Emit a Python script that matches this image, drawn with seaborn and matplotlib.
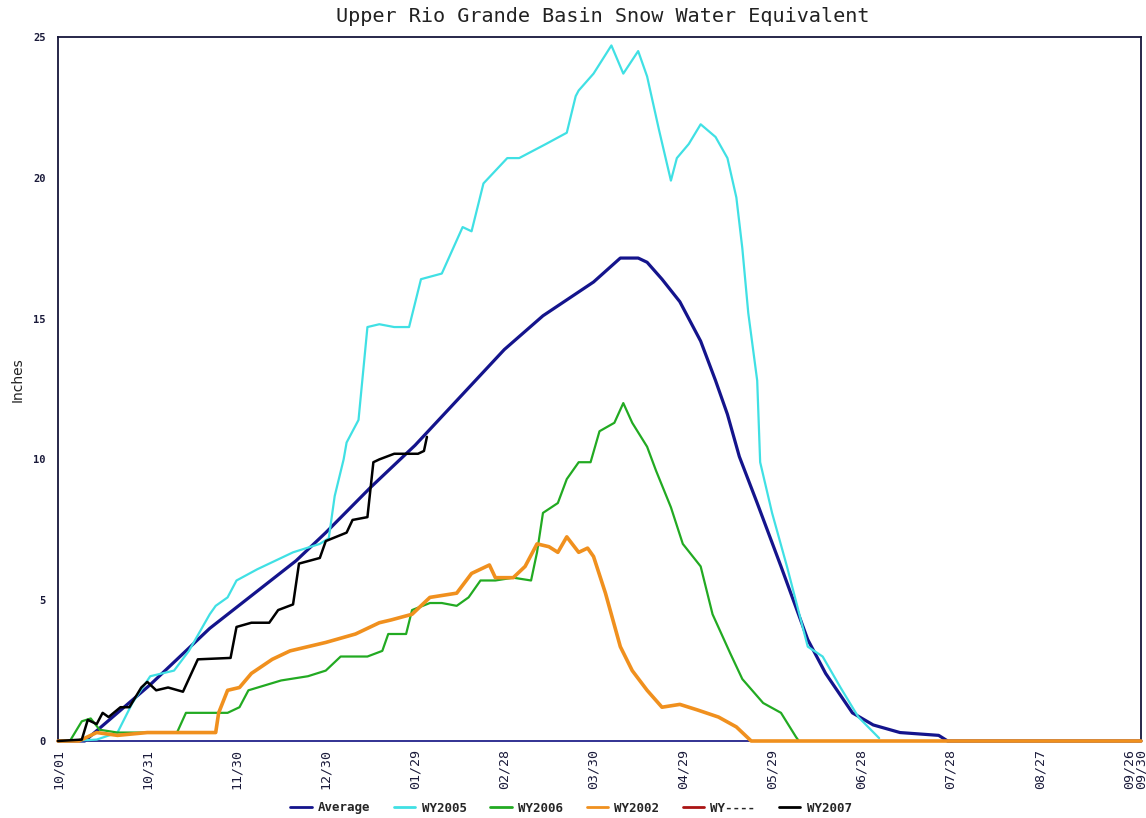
import matplotlib
matplotlib.use("Agg")
import matplotlib.pyplot as plt
from matplotlib.lines import Line2D
import pandas as pd
import seaborn as sns

# day of water year (0 = Oct 1) and snow water equivalent in inches
avg_days = [0, 9, 20, 31, 51, 80, 90, 105, 120, 135, 150, 163, 180, 189, 195, 198, 203, 209,
            216, 221, 225, 229, 235, 243, 252, 258, 267, 274, 283, 296, 299, 364]
avg_vals = [0, 0, 1.0, 2.0, 4.0, 6.4, 7.4, 9.0, 10.5, 12.2, 13.9, 15.1, 16.3, 17.15, 17.15, 17.0,
            16.4, 15.6, 14.2, 12.8, 11.6, 10.1, 8.45, 6.2, 3.6, 2.4, 1.0, 0.57, 0.3, 0.2, 0, 0]

wy2005_days = [0, 4, 13, 20, 25, 31, 39, 44, 51, 53, 57, 60, 67, 79, 88, 91, 93, 96, 97, 101,
               104, 108, 113, 118, 122, 129, 136, 139, 143, 151, 155, 164, 171, 174, 175, 180,
               186, 190, 195, 198, 202, 206, 208, 212, 216, 221, 225, 228, 230, 232, 235, 236,
               240, 245, 252, 257, 263, 269, 276]
wy2005_vals = [0, 0, 0.05, 0.3, 1.35, 2.3, 2.5, 3.2, 4.5, 4.8, 5.1, 5.7, 6.1, 6.7, 7.0, 7.2, 8.7,
               10.0, 10.6, 11.4, 14.7, 14.8, 14.7, 14.7, 16.4, 16.6, 18.25, 18.1, 19.8, 20.7,
               20.7, 21.2, 21.6, 22.9, 23.1, 23.7, 24.7, 23.7, 24.5, 23.6, 21.7, 19.9, 20.7,
               21.2, 21.9, 21.45, 20.7, 19.3, 17.5, 15.2, 12.8, 9.9, 8.1, 6.2, 3.35, 3.0, 1.9,
               0.85, 0.1]

wy2006_days = [0, 4, 8, 11, 14, 20, 31, 40, 43, 48, 54, 57, 61, 64, 75, 84, 90, 95, 104, 109,
               111, 117, 119, 125, 129, 134, 138, 142, 147, 153, 159, 161, 163, 168, 171, 175,
               179, 182, 187, 190, 193, 198, 201, 206, 210, 216, 220, 226, 230, 237, 243, 248,
               249]
wy2006_vals = [0, 0, 0.7, 0.8, 0.4, 0.3, 0.3, 0.3, 1.0, 1.0, 1.0, 1.0, 1.2, 1.8, 2.15, 2.3, 2.5,
               3.0, 3.0, 3.2, 3.8, 3.8, 4.65, 4.9, 4.9, 4.8, 5.1, 5.7, 5.7, 5.8, 5.7, 6.7, 8.1,
               8.45, 9.3, 9.9, 9.9, 11.0, 11.3, 12.0, 11.3, 10.45, 9.6, 8.3, 7.0, 6.2, 4.5, 3.1,
               2.2, 1.35, 1.0, 0.15, 0]

wy2002_days = [0, 7, 13, 20, 30, 53, 54, 57, 61, 65, 72, 78, 90, 100, 108, 112, 119, 125, 134,
               139, 145, 147, 153, 157, 161, 165, 168, 171, 175, 178, 180, 184, 189, 193, 198,
               203, 209, 215, 222, 228, 232, 233, 364]
wy2002_vals = [0, 0, 0.3, 0.2, 0.3, 0.3, 1.0, 1.8, 1.9, 2.4, 2.9, 3.2, 3.5, 3.8, 4.2, 4.3, 4.5,
               5.1, 5.25, 5.95, 6.25, 5.8, 5.8, 6.2, 7.0, 6.9, 6.7, 7.25, 6.7, 6.85, 6.55, 5.25,
               3.35, 2.5, 1.8, 1.2, 1.3, 1.1, 0.85, 0.5, 0.1, 0, 0]

wy2007_days = [0, 8, 10, 13, 15, 17, 21, 24, 28, 30, 33, 37, 42, 47, 58, 60, 65, 71, 74, 79,
               81, 88, 90, 97, 99, 104, 106, 108, 113, 121, 123, 124]
wy2007_vals = [0, 0.05, 0.75, 0.6, 1.0, 0.85, 1.2, 1.2, 1.9, 2.1, 1.8, 1.9, 1.75, 2.9, 2.95,
               4.05, 4.2, 4.2, 4.65, 4.85, 6.3, 6.5, 7.1, 7.4, 7.85, 7.95, 9.9, 10.0, 10.2, 10.2,
               10.3, 10.8]

tick_days = [0, 30, 60, 90, 120, 150, 180, 210, 240, 270, 300, 330, 360, 364]
tick_labels = ["10/01", "10/31", "11/30", "12/30", "01/29", "02/28", "03/30", "04/29",
               "05/29", "06/28", "07/28", "08/27", "09/26", "09/30"]

series = [
    ("Average", avg_days, avg_vals, "#14148c", 2.3),
    ("WY2005", wy2005_days, wy2005_vals, "#40e0e4", 1.6),
    ("WY2006", wy2006_days, wy2006_vals, "#22aa22", 1.6),
    ("WY2002", wy2002_days, wy2002_vals, "#f0901e", 2.6),
    ("WY2007", wy2007_days, wy2007_vals, "#000000", 1.8),
]

sns.set_style("white")
plt.rcParams["font.family"] = ["DejaVu Sans Mono", "DejaVu Sans"]

fig = plt.figure(figsize=(11.46, 8.18), dpi=100)
ax = fig.add_axes([58 / 1146, 1 - 741 / 818, (1141 - 58) / 1146, (741 - 37) / 818])

for name, days, vals, color, lw in series:
    frame = pd.DataFrame({"day": days, "swe": vals})
    sns.lineplot(data=frame, x="day", y="swe", ax=ax, color=color, linewidth=lw,
                 estimator=None, sort=False, legend=False, zorder=3, clip_on=False)

ax.set_xlim(0, 364)
ax.set_ylim(0, 25)
ax.set_xticks(tick_days)
ax.set_xticklabels(tick_labels, rotation=90, fontsize=9.5)
ax.set_yticks([0, 5, 10, 15, 20, 25])
ax.set_yticklabels(["0", "5", "10", "15", "20", "25"], fontsize=7.5, fontweight="bold")
ax.set_xlabel("")
ax.set_ylabel("")
ax.tick_params(axis="both", direction="in", length=5, width=1, colors="#1a1a3a", pad=9)
ax.tick_params(axis="x", pad=6)
for side in ["left", "top", "right"]:
    ax.spines[side].set_color("#16163a")
    ax.spines[side].set_linewidth(1.3)
ax.spines["bottom"].set_color("#22228a")
ax.spines["bottom"].set_linewidth(1.3)

fig.text(603 / 1146, 1 - 16 / 818, "Upper Rio Grande Basin Snow Water Equivalent",
         ha="center", va="center", fontsize=14.5, color="#222222")
fig.text(18 / 1146, 1 - 380 / 818, "Inches", rotation=90, ha="center", va="center",
         fontsize=10, family="DejaVu Sans", color="#222222")

handles = [
    Line2D([], [], color="#14148c", lw=2),
    Line2D([], [], color="#40e0e4", lw=2),
    Line2D([], [], color="#22aa22", lw=2),
    Line2D([], [], color="#f0901e", lw=2),
    Line2D([], [], color="#aa1414", lw=2),
    Line2D([], [], color="#000000", lw=2),
]
labels = ["Average", "WY2005", "WY2006", "WY2002", "WY----", "WY2007"]
fig.legend(handles, labels, loc="center", bbox_to_anchor=(571 / 1146, 1 - 808 / 818),
           ncol=6, frameon=False, handlelength=1.7, handletextpad=0.5,
           columnspacing=1.9, prop={"weight": "bold", "size": 9})

fig.savefig("out.png", dpi=100)
